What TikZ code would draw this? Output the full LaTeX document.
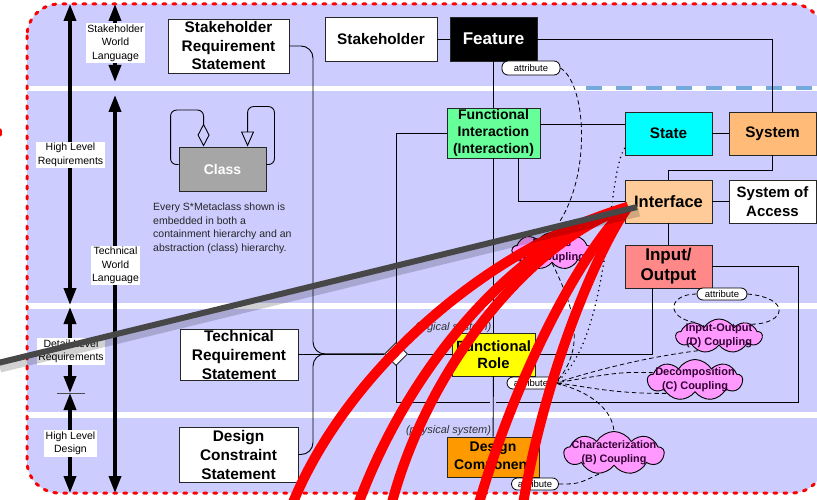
\documentclass[tikz,border=0pt]{standalone}
\usepackage{fontspec}
\setmainfont{Liberation Sans}
\usetikzlibrary{arrows.meta,shapes.geometric,shapes.symbols,calc}
\definecolor{lav}{HTML}{CCCCFF}
\definecolor{figreen}{HTML}{66FF99}
\definecolor{stcyan}{HTML}{00FFFF}
\definecolor{sysor}{HTML}{FFBB77}
\definecolor{intfor}{HTML}{FFCC99}
\definecolor{iored}{HTML}{FF8888}
\definecolor{frylw}{HTML}{FFFF00}
\definecolor{dcor}{HTML}{FF9900}
\definecolor{clsgrey}{HTML}{A6A6A6}
\definecolor{cloudpk}{HTML}{FF99FF}
\definecolor{cloudtx}{HTML}{330033}
\definecolor{selblue}{HTML}{5B9BD5}
\definecolor{pointergrey}{HTML}{474747}
\tikzset{
  box/.style={draw=black!85, line width=0.9pt, align=center, inner sep=0pt, font=\bfseries\fontsize{15.3}{18.5}\selectfont},
  conn/.style={draw=black, line width=0.9pt},
  attr/.style={draw=black, fill=white, rounded corners=6pt, line width=0.8pt, inner sep=0pt, minimum height=13pt, font=\fontsize{9.5}{10}\selectfont},
  cloudnode/.style={cloud, cloud puffs=9, cloud puff arc=120, draw=black, line width=0.9pt, fill=cloudpk, inner sep=0pt},
  cloudtext/.style={align=center, font=\bfseries\fontsize{11}{14}\selectfont, text=cloudtx, inner sep=0pt},
  lvl/.style={fill=white, align=center, inner sep=1.5pt, font=\fontsize{10.5}{13.5}\selectfont},
  lvlarrow/.style={line width=3.5pt, {Triangle[length=17pt,width=12pt]}-{Triangle[length=17pt,width=12pt]}},
  dashc/.style={draw=black, line width=0.8pt, dash pattern=on 4.5pt off 3pt},
  dotc/.style={draw=black, line width=1.7pt, dash pattern=on 0pt off 5pt, line cap=round},
  redstroke/.style={draw=red, line width=10pt},
  sysnote/.style={font=\itshape\fontsize{11}{13}\selectfont, text=black!80, inner sep=0pt}
}
\begin{document}
\begin{tikzpicture}[x=1pt,y=-1pt]
\useasboundingbox (0,0) rectangle (817,500);
\begin{scope}
\clip (0,0) rectangle (817,500);
% background
\fill[lav, rounded corners=32pt] (27,4) rectangle (824,493);
\fill[white] (27,86) rectangle (830,91);
\fill[white] (27,303) rectangle (830,309);
\fill[white] (27,412) rectangle (830,418);
\draw[selblue, line width=4pt, dash pattern=on 16pt off 14pt, opacity=0.85] (586,88.5) -- (817,88.5);
\draw[red, line width=3pt, dash pattern=on 3pt off 7pt, line cap=round, rounded corners=32pt] (27,4) rectangle (824,493);
\draw[red, line width=3pt, line cap=round] (0.5,130) -- (0.5,135);

% level arrows
\coordinate (a1t) at (70,4);   \coordinate (a1b) at (70,305);
\coordinate (a2t) at (115,4);  \coordinate (a2b) at (115,82);
\coordinate (a3t) at (115,95); \coordinate (a3b) at (115,493);
\coordinate (a4t) at (70,307); \coordinate (a4b) at (70,393);
\coordinate (a5t) at (70,393); \coordinate (a5b) at (70,493);
\coordinate (tk1) at (57,393); \coordinate (tk2) at (85,393);
\draw[lvlarrow] (a1t) -- (a1b);
\draw[lvlarrow] (a2t) -- (a2b);
\draw[lvlarrow] (a3t) -- (a3b);
\draw[lvlarrow] (a4t) -- (a4b);
\draw[lvlarrow] (a5t) -- (a5b);
\draw[black!70, line width=0.8pt] (tk1) -- (tk2);
\node[lvl] (lhlr) at (70.5,155) {High Level\\Requirements};
\node[lvl] (lswl) at (115.5,43) {Stakeholder\\World\\Language};
\node[lvl] (ltwl) at (115.5,265.5) {Technical\\World\\Language};
\node[lvl] (ldlr) at (71,351.5) {Detail Level\\Requirements};
\node[lvl] (lhld) at (70.5,443.5) {High Level\\Design};

% main nodes
\node[box, fill=white, minimum width=121pt, minimum height=54pt] (srs) at (228.5,46) {Stakeholder\\Requirement\\Statement};
\node[box, fill=white, minimum width=112pt, minimum height=44pt] (stk) at (381,39) {Stakeholder};
\node[box, fill=black, text=white, minimum width=87pt, minimum height=44pt, font=\bfseries\fontsize{17}{20}\selectfont] (feat) at (493.5,39) {Feature};
\node[box, fill=figreen, minimum width=93pt, minimum height=50pt, font=\bfseries\fontsize{14}{16.7}\selectfont] (fi) at (493.5,133) {Functional\\Interaction\\(Interaction)};
\node[box, fill=stcyan, minimum width=87pt, minimum height=43pt] (state) at (668.5,133.5) {State};
\node[box, fill=sysor, minimum width=87pt, minimum height=43pt] (sys) at (772.5,133.5) {System};
\node[box, fill=intfor, minimum width=87pt, minimum height=43pt, font=\bfseries\fontsize{16.5}{19}\selectfont] (intf) at (668.5,201.5) {Interface};
\node[box, fill=white, minimum width=87pt, minimum height=43pt, font=\bfseries\fontsize{15}{19}\selectfont] (soa) at (772.5,201.5) {System of\\Access};
\node[box, fill=iored, minimum width=87pt, minimum height=43pt, font=\bfseries\fontsize{17}{20}\selectfont] (io) at (668.5,266.5) {Input/\\Output};
\node[box, fill=frylw, minimum width=83pt, minimum height=43pt, font=\bfseries\fontsize{14.8}{17}\selectfont] (fr) at (493.5,354.5) {Functional\\Role};
\node[box, fill=dcor, minimum width=92pt, minimum height=40pt, font=\bfseries\fontsize{14}{18}\selectfont] (dc) at (493,457) {Design\\Component};
\node[box, fill=white, minimum width=118pt, minimum height=51pt, font=\bfseries\fontsize{15.4}{19}\selectfont] (trs) at (239,354.5) {Technical\\Requirement\\Statement};
\node[box, fill=white, minimum width=119pt, minimum height=55pt, font=\bfseries\fontsize{15.4}{19}\selectfont] (dcs) at (238.5,454.5) {Design\\Constraint\\Statement};
\node[box, fill=clsgrey, text=white, minimum width=87pt, minimum height=44pt, font=\bfseries\fontsize{14}{16}\selectfont] (cls) at (222.5,169) {Class};

\node[sysnote] (lsys) at (453,328) {(logical system)};
\node[sysnote] (psys) at (448.5,431) {(physical system)};
\node[align=left, anchor=north west, inner sep=0pt, text=black!85, font=\fontsize{10.5}{13.7}\selectfont] (note) at (153,202.5) {Every S*Metaclass shown is\\embedded in both a\\containment hierarchy and an\\abstraction (class) hierarchy.};

% attribute pills
\node[attr, minimum width=58pt, minimum height=14pt] (attrF) at (531,68) {attribute};
\node[attr, minimum width=50pt, minimum height=12pt] (attrIO) at (722,294) {attribute};
\node[attr, minimum width=48pt, minimum height=12pt] (attrFR) at (531,383) {attribute};
\node[attr, minimum width=47pt, minimum height=12pt] (attrDC) at (535,484) {attribute};

% helper coordinates
\coordinate (hFIST) at (0,124.5);
\coordinate (vL) at (396,0);
\coordinate (hBot) at (0,402);
\coordinate (vR) at (798,0);
\coordinate (vFIb) at (518,0);
\coordinate (vIOb) at (652,0);
\coordinate (hSys) at (0,170);
\coordinate (vBus) at (313,0);

% connectors
\draw[conn] (stk) -- (feat);
\draw[conn] (feat) -- (fi);
\draw[conn] (feat.east) -| (sys.north);
\draw[conn] (fi.east |- hFIST) -- (state.west |- hFIST);
\draw[conn] (state) -- (sys);
\draw[conn] (sys.south) -- (sys.south |- hSys) -| (intf.north);
\draw[conn] (intf) -- (soa);
\draw[conn] (intf) -- (io);
\draw[conn] (fi.west) -- (fi.west -| vL) -- (vL |- hBot) -- (vR |- hBot) -- (vR |- io.east) -- (io.east);
\draw[conn] (fi.south -| vFIb) -- (vFIb |- intf.west) -- (intf.west);
\draw[conn] (fi) -- (fr);
\draw[conn] (fr.east) -- (fr.east -| vIOb) -- (vIOb |- io.south);
\draw[lav, line width=6pt] (493,397.5) -- (493,406.5);
\draw[conn] (fr) -- (dc);

% aggregation diamond and left bus
\node[diamond, draw=black, fill=white, line width=0.8pt, minimum width=23pt, minimum height=23pt, inner sep=0pt] (dia) at (396,354) {};
\draw[conn] (trs.east |- dia) -- (dia.west);
\draw[conn] (dia.east) -- (fr.west |- dia);
\draw[conn, rounded corners=12pt] (srs.east) -- (srs.east -| vBus) -- (vBus |- dia) -- (dia.west);
\draw[conn, rounded corners=12pt] (dcs.east) -- (dcs.east -| vBus) -- (vBus |- dia) -- (dia.west);

% class self loops
\draw[conn, rounded corners=6pt, -{Diamond[open,length=23pt,width=12pt]}] ($(cls.north west)+(0,18)$) -- ($(cls.north west)+(-8,18)$) |- ($(cls.north west)+(25,-36.5)$) -- ($(cls.north west)+(25,0)$);
\draw[conn, rounded corners=6pt, -{Triangle[open,length=15pt,width=13pt]}] ($(cls.north east)+(0,18)$) -- ($(cls.north east)+(8,18)$) |- ($(cls.north west)+(69,-40)$) -- ($(cls.north west)+(69,0)$);

% clouds
\node[cloudnode, minimum width=80pt, minimum height=37pt] (cA) at (552,251) {};
\node[cloudtext] (cAt) at (cA) {Fitness\\(A) Coupling};
\node[cloudnode, minimum width=86pt, minimum height=34pt] (cD) at (719,336) {};
\node[cloudtext] (cDt) at (cD) {Input-Output\\(D) Coupling};
\node[cloudnode, minimum width=95pt, minimum height=41pt] (cC) at (695,380) {};
\node[cloudtext] (cCt) at (cC) {Decomposition\\(C) Coupling};
\node[cloudnode, minimum width=100pt, minimum height=43pt] (cB) at (614,453) {};
\node[cloudtext, font=\bfseries\fontsize{10.8}{14}\selectfont] (cBt) at (cB) {Characterization\\(B) Coupling};

% dashed / dotted relations
\draw[dashc] (attrF.east) .. controls (588,85) and (592,185) .. (cA.north);
\draw[dashc] (cA.south) .. controls (570,300) and (590,345) .. (attrFR.east);
\draw[dotc] ($(state.south west)+(0,-7)$) .. controls (606,175) and (612,340) .. (attrFR.east);
\draw[dashc, -{Straight Barb[length=4pt,width=7pt]}] (cD.215) .. controls (640,358) and (590,372) .. (attrFR.east);
\draw[dashc] (cC.170) .. controls (620,372) .. (attrFR.east);
\draw[dashc] (cC.205) .. controls (610,394) and (580,385) .. (attrFR.east);
\draw[dashc] (attrFR.east) .. controls (592,392) and (612,410) .. (cB.north);
\draw[dashc] (attrDC.east) .. controls (578,484) .. (cB.235);
\draw[dashc] (attrIO.west) .. controls (668,294) and (665,318) .. (cD.150);
\draw[dashc] (attrIO.east) .. controls (792,298) and (786,324) .. (cD.20);

% red annotation strokes
\coordinate (tip) at (628,207);
\draw[redstroke] (tip) .. controls (480,250) and (340,380) .. (290,510);
\draw[redstroke] (tip) .. controls (520,240) and (410,360) .. (356,510);
\draw[redstroke] (tip) .. controls (530,240) and (425,370) .. (390,510);
\draw[redstroke] (tip) .. controls (590,240) and (520,360) .. (477,510);
\draw[redstroke] (tip) .. controls (600,245) and (545,370) .. (522,510);

% grey pointer
\coordinate (pstart) at (-2,363);
\coordinate (pend) at (637,207);
\draw[black, opacity=0.18, line width=9pt] ($(pstart)+(2,5)$) -- ($(pend)+(2,5)$);
\draw[pointergrey, line width=6pt] (pstart) -- (pend);
\end{scope}
\end{tikzpicture}
\end{document}
